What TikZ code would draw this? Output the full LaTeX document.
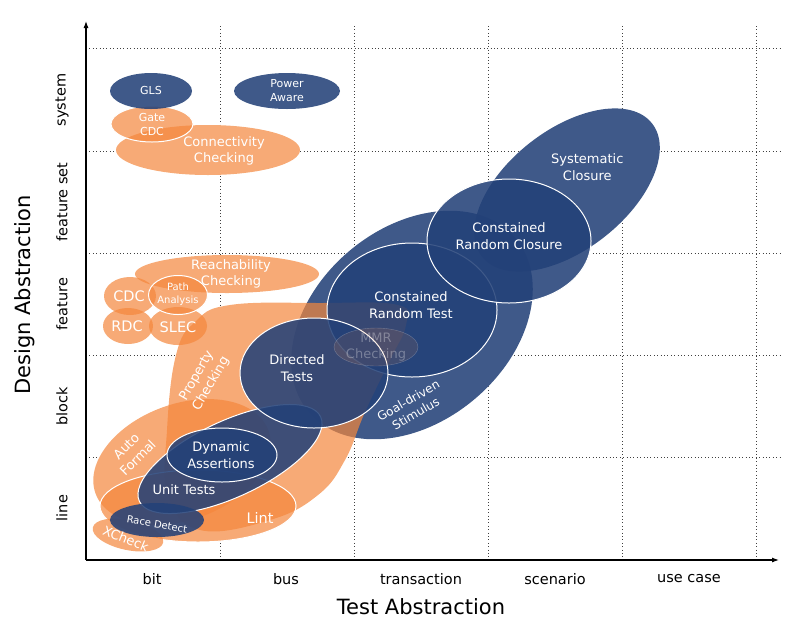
\documentclass[tikz,border=0pt]{standalone}
\usepackage{fontspec}
\setmainfont{DejaVu Sans}
\usetikzlibrary{arrows.meta}

\definecolor{bluefill}{RGB}{35,65,120}
\definecolor{orangefill}{RGB}{245,135,60}

\tikzset{
  blueblob/.style={fill=bluefill,fill opacity=0.87},
  orangeblob/.style={fill=orangefill,fill opacity=0.7},
  rim/.style={draw=white,line width=1pt},
  lbl/.style={text=white,align=center,font=\fontsize{13}{16.5}\selectfont},
  smalllbl/.style={lbl,font=\fontsize{11}{14}\selectfont},
  biglbl/.style={lbl,font=\fontsize{14.5}{17}\selectfont},
  gridline/.style={dash pattern=on 1pt off 2.4pt,line width=1pt,black!75},
  axisline/.style={line width=1.1pt,-{Latex[length=7pt,width=5pt]}},
  ticklbl/.style={font=\fontsize{14.5}{17}\selectfont},
  axistitle/.style={font=\fontsize{21}{25}\selectfont}
}

% all the areas, drawn once in white (to hide the grid) and once in colour
\newcommand{\drawblobs}{%
  % simulation side
  \fill[blueblob,shift={(567,190)},rotate=38] (0,0) ellipse [x radius=108pt,y radius=60pt];
  \fill[blueblob,shift={(412,325)},rotate=40] (0,0) ellipse [x radius=135pt,y radius=97pt];
  \path[orangeblob] plot[smooth cycle,tension=0.7] coordinates
    {(230,305) (320,303) (398,305) (406,325) (390,360) (365,412)
     (345,460) (318,495) (270,520) (200,530) (168,495) (167,430)
     (176,355) (195,322)};
  \path[blueblob,rim] (412,310) ellipse [x radius=85pt,y radius=67pt];
  \path[blueblob,rim] (509,241) ellipse [x radius=82pt,y radius=62pt];
  % lower left
  \fill[orangeblob,shift={(182,462)},rotate=20] (0,0) ellipse [x radius=92pt,y radius=58pt];
  \path[orangeblob,rim] (198,506) ellipse [x radius=98pt,y radius=36pt];
  \fill[orangeblob,shift={(128,535)},rotate=-12] (0,0) ellipse [x radius=36pt,y radius=15pt];
  \path[blueblob,rim,shift={(230,459)},rotate=25] (0,0) ellipse [x radius=100pt,y radius=38pt];
  \path[blueblob,rim] (222,455) ellipse [x radius=55pt,y radius=27pt];
  \fill[blueblob] (157,520) ellipse [x radius=47pt,y radius=17pt];
  \path[blueblob,rim] (314,373) ellipse [x radius=74pt,y radius=55pt];
  % upper left
  \fill[orangeblob] (208,150) ellipse [x radius=92pt,y radius=25pt];
  \path[orangeblob,rim] (152,124) ellipse [x radius=41pt,y radius=18pt];
  \fill[blueblob] (151,91) ellipse [x radius=41pt,y radius=18pt];
  \fill[blueblob] (287,91) ellipse [x radius=53pt,y radius=18pt];
  \fill[orangeblob] (227,274) ellipse [x radius=92pt,y radius=19pt];
  \fill[orangeblob] (130,296) ellipse [x radius=26pt,y radius=19pt];
  \fill[orangeblob] (128,326) ellipse [x radius=25pt,y radius=18pt];
  \fill[orangeblob] (178,326) ellipse [x radius=29pt,y radius=19pt];
  \path[orangeblob,rim] (178,295) ellipse [x radius=29.5pt,y radius=19.5pt];
}

\begin{document}
\begin{tikzpicture}[x=1pt,y=-1pt]
  \useasboundingbox (0,0) rectangle (786,633);

  % dotted grid
  \foreach \y in {48,151,253,355,457}
  {\draw[gridline] (86,\y) -- (781,\y);}
  \foreach \x in {220,354,488,622,756}
  {\draw[gridline] (\x,26) -- (\x,560);}

  \begin{scope}[blueblob/.style={fill=white},orangeblob/.style={fill=white},
                rim/.style={}]
    \drawblobs
  \end{scope}
  \drawblobs

  % faint MMR area on top
  \path[fill=orangefill,fill opacity=0.12,draw=white,draw opacity=0.25]
    (376,347) ellipse [x radius=42pt,y radius=19pt];
  \node[lbl,text opacity=0.3] (mmr) at (376,347) {MMR\\Checking};

  % labels
  \node[smalllbl] (gls) at (151,90) {GLS};
  \node[smalllbl] (power) at (287,91) {Power\\Aware};
  \node[smalllbl] (gatecdc) at (152,124) {Gate\\CDC};
  \node[lbl] (connect) at (224,151) {Connectivity\\Checking};
  \node[lbl] (reach) at (231,274) {Reachability\\Checking};
  \node[biglbl] (cdc) at (129,296) {CDC};
  \node[biglbl] (rdc) at (127,326) {RDC};
  \node[lbl,font=\fontsize{10}{13}\selectfont] (path) at (178,294) {Path\\Analysis};
  \node[biglbl] (slec) at (178,327) {SLEC};
  \node[lbl,rotate=60] (property) at (204,380) {Property\\Checking};
  \node[lbl,rotate=45] (autoformal) at (132,452) {Auto\\Formal};
  \node[lbl] (dynamic) at (221,455) {Dynamic\\Assertions};
  \node[lbl] (unit) at (184,490) {Unit Tests};
  \node[lbl,rotate=-10,font=\fontsize{10}{13}\selectfont] (race) at (157,524) {Race Detect};
  \node[lbl,rotate=-22] (xcheck) at (126,539) {XCheck};
  \node[biglbl] (lint) at (260,518) {Lint};
  \node[lbl] (directed) at (297,368) {Directed\\Tests};
  \node[lbl] (crt) at (411,305) {Constained\\Random Test};
  \node[lbl,rotate=30,font=\fontsize{12}{15}\selectfont] (goal) at (412,407) {Goal-driven\\Stimulus};
  \node[lbl] (crc) at (509,236) {Constained\\Random Closure};
  \node[lbl,anchor=east] (systematic) at (627,167) {Systematic\\Closure};

  % axes
  \coordinate (origin) at (86,560);
  \coordinate (xtip) at (779,560);
  \coordinate (ytip) at (86,21);
  \draw[axisline] (origin) -- (xtip);
  \draw[axisline] (origin) -- (ytip);

  \foreach \n/\t [count=\i] in
  {152/bit,286/bus,421/transaction,555/scenario,689/use case}
  {\node[ticklbl] (xt\i) at (\n,579) {\t};}

  \foreach \n/\t [count=\i] in
  {100/system,202/feature set,304/feature,406/block,508/line}
  {\node[ticklbl,rotate=90] (yt\i) at (62,\n) {\t};}

  \node[axistitle] (xtitle) at (421,607) {Test Abstraction};
  \node[axistitle,rotate=90] (ytitle) at (25,295) {Design Abstraction};
\end{tikzpicture}
\end{document}
